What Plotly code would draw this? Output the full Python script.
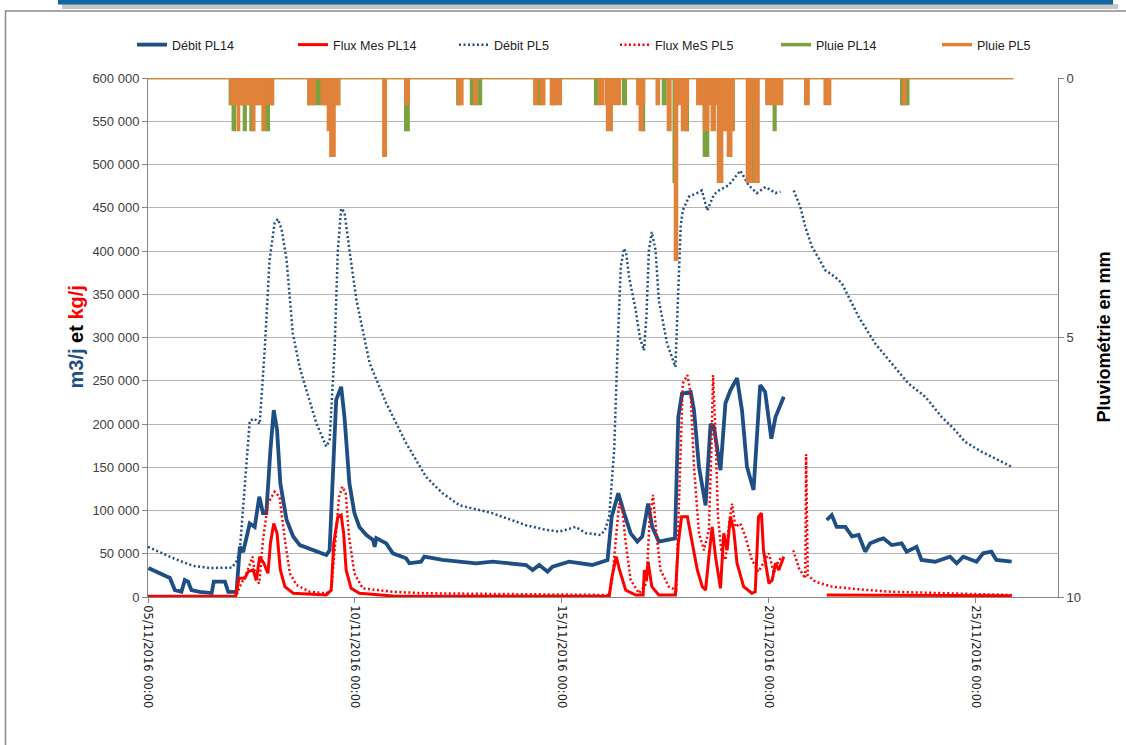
import pandas as pd
import plotly.graph_objects as go

START = pd.Timestamp("2016-11-05 00:00")

# ---- Débit PL14 (m3/j) : days since 05/11/2016 00:00 ----
t_debit_pl14 = [0.01, 0.29, 0.53, 0.65, 0.81, 0.89, 0.97, 1.05, 1.25, 1.54, 1.59, 1.86, 1.94, 2.14,
                2.22, 2.30, 2.46, 2.58, 2.69, 2.78, 2.86, 2.96, 3.04, 3.12, 3.20, 3.35, 3.51, 3.67,
                3.99, 4.31, 4.39, 4.47, 4.55, 4.67, 4.75, 4.87, 4.99, 5.11, 5.28, 5.44, 5.48, 5.52,
                5.76, 5.92, 6.24, 6.32, 6.60, 6.68, 7.12, 7.93, 8.33, 9.14, 9.30, 9.46, 9.66, 9.78,
                9.94, 10.18, 10.74, 11.11, 11.21, 11.37, 11.51, 11.67, 11.83, 11.95, 12.09, 12.19,
                12.35, 12.59, 12.74, 12.82, 12.91, 13.12, 13.20, 13.32, 13.48, 13.60, 13.68, 13.84,
                13.96, 14.08, 14.24, 14.36, 14.48, 14.64, 14.72, 14.80, 14.92, 15.07, 15.17, 15.37,
                15.70,
                16.41, 16.53, 16.65, 16.86, 17.02, 17.18, 17.34, 17.46, 17.66, 17.78, 17.98, 18.22,
                18.34, 18.58, 18.70, 19.03, 19.39, 19.55, 19.71, 20.03, 20.19, 20.39, 20.51, 20.88]
debit_pl14 = [33500, 27700, 22000, 8000, 6000, 19600, 17700, 8000, 6000, 4600, 17700, 17700, 6000, 6000,
              58000, 52000, 85000, 81000, 116000, 97000, 97000, 170000, 216000, 193000, 131000, 89000, 70000, 60000,
              54000, 48500, 54000, 150600, 228000, 243000, 208000, 131000, 97000, 81000, 71700, 66000, 58000, 68000,
              62000, 50500, 44700, 39000, 40800, 46600, 42800, 39000, 40800, 37000, 31200, 37000, 29300, 35000,
              37000, 40800, 37000, 42800, 92800, 120000, 97000, 73600, 64000, 70000, 108000, 81000,
              64000, 66000, 67800, 208000, 235000, 237000, 216000, 150600, 106000, 200000, 197000, 146700,
              224000, 239000, 253000, 216000, 150600, 123700, 189000, 245000, 237000, 183000, 208000, 231500,
              None,
              89000, 94800, 81000, 81000, 70000, 71700, 52400, 62000, 66000, 67800, 60000, 62000,
              52400, 58000, 42800, 40800, 46600, 39000, 46600, 40800, 50500, 52400, 42800, 40800]

# ---- Flux MES PL14 (kg/j) ----
t_flux_pl14 = [0.00, 2.12, 2.20, 2.34, 2.42, 2.54, 2.62, 2.70, 2.80, 2.90, 2.96, 3.04, 3.12, 3.20, 3.31,
               3.51, 4.31, 4.43, 4.49, 4.59, 4.67, 4.73, 4.79, 4.91, 5.11, 5.92, 11.05, 11.15, 11.21,
               11.32, 11.40, 11.55, 11.79, 11.97, 12.00, 12.05, 12.09, 12.18, 12.35, 12.75, 12.82,
               12.90, 13.04, 13.12, 13.28, 13.40, 13.48, 13.56, 13.64, 13.72, 13.84, 13.92, 14.00,
               14.08, 14.16, 14.24, 14.40, 14.60, 14.68, 14.76, 14.83, 14.88, 15.01, 15.09, 15.17,
               15.25, 15.37, 15.70, 16.41, 18.14, 20.88]
flux_pl14 = [1000, 1000, 21600, 21600, 29300, 31200, 19600, 46600, 39000, 27400, 62000, 85000, 73600, 31200, 12000,
             4300, 2300, 8000, 62000, 92800, 94800, 73600, 31200, 10000, 4300, 1200, 800, 500, 21600,
             46600, 31200, 8000, 2300, 2300, 31200, 19600, 40800, 12000, 2300, 2300, 62000,
             92800, 92800, 73600, 31200, 12000, 8000, 46600, 81000, 46600, 10000, 73600, 54000,
             92800, 77500, 39000, 12000, 4300, 6000, 92800, 97000, 54000, 15800, 19600, 39000,
             31200, 46600, None, 2300, 1800, 1500]

# ---- Débit PL5 (m3/j) ----
t_debit_pl5 = [0.00, 0.29, 0.65, 1.09, 1.50, 2.03, 2.15, 2.22, 2.34, 2.46, 2.58, 2.70, 2.82, 2.94, 3.06,
               3.14, 3.23, 3.35, 3.50, 3.67, 3.83, 4.07, 4.31, 4.39, 4.51, 4.59, 4.67, 4.75, 4.87, 5.04,
               5.36, 5.76, 6.24, 6.72, 7.12, 7.53, 8.32, 9.14, 9.58, 9.94, 10.34, 10.58, 10.95, 11.05,
               11.15, 11.27, 11.35, 11.43, 11.51, 11.56, 11.63, 11.79, 11.89, 11.99, 12.05, 12.11,
               12.18, 12.27, 12.35, 12.55, 12.75, 12.83, 12.88, 12.93, 13.08, 13.32, 13.39, 13.52,
               13.68, 13.80, 14.04, 14.32, 14.52, 14.72, 14.93, 15.17, 15.29, 15.45, 15.61, 15.77,
               15.89, 16.05, 16.21, 16.37, 16.61, 16.77, 17.18, 17.58, 17.98, 18.38, 18.79, 19.19,
               19.51, 19.75, 20.15, 20.55, 20.88]
debit_pl5 = [58000, 52000, 44000, 36000, 33500, 34000, 42000, 54000, 132000, 204000, 206000, 200000, 285000, 390000, 432000,
             437000, 425000, 390000, 305000, 265000, 239000, 201000, 174000, 181000, 285000, 401000, 449000, 445000, 401000, 343000,
             270000, 224000, 178000, 139000, 120000, 106000, 97000, 83000, 78000, 75500, 81000, 74000, 71700, 78000,
             93000, 170000, 285000, 382000, 403000, 398000, 370000, 332000, 300000, 285000, 324000, 401000,
             422000, 401000, 343000, 293000, 266000, 363000, 430000, 447000, 463000, 468000, 470000, 447000,
             465000, 470000, 476000, 493000, 476000, 467000, 474000, 467000, 468500, None, 470000, 451000,
             428000, 405000, 392000, 378000, 370000, 363000, 324000, 293000, 270000, 247000, 231500, 208000,
             193000, 179500, 168000, 158000, 150500]

# ---- Flux MeS PL5 (kg/j) ----
t_flux_pl5 = [0.00, 2.12, 2.22, 2.38, 2.53, 2.61, 2.69, 2.78, 2.90, 3.06, 3.18, 3.31, 3.43, 3.59, 3.91,
              4.31, 4.43, 4.54, 4.62, 4.70, 4.78, 4.86, 4.99, 5.19, 5.92, 6.72, 9.94, 11.15, 11.22,
              11.31, 11.39, 11.47, 11.55, 11.67, 11.87, 12.05, 12.13, 12.21, 12.29, 12.39, 12.59,
              12.77, 12.85, 12.93, 13.04, 13.12, 13.20, 13.32, 13.44, 13.56, 13.62, 13.66, 13.72,
              13.78, 13.86, 13.96, 14.04, 14.12, 14.20, 14.32, 14.44, 14.60, 14.76, 15.01, 15.13,
              15.25, 15.35, 15.50, 15.60, 15.74, 15.89, 15.91, 15.95, 16.13, 16.53, 17.18, 17.98,
              19.59, 20.88]
flux_pl5 = [500, 500, 12000, 27400, 46600, 19600, 15800, 66000, 108000, 121700, 116000, 66000, 27400, 13900, 6000,
            4300, 8000, 70000, 116000, 127500, 120000, 70000, 27400, 10000, 6000, 4300, 2300, 2300, 19600,
            66000, 108000, 100500, 62000, 19600, 4300, 15800, 92800, 118000, 73600, 31200, 12000,
            8000, 131000, 247000, 256600, 235000, 150600, 73600, 54000, 77500, 170000, 256600, 189000,
            92800, 54000, 42800, 81000, 108000, 81000, 85000, 70000, 42800, 29300, 50500, 27400,
            42800, 46600, None, 54000, 33100, 21600, 165000, 25400, 17700, 12000, 8900, 6000,
            4300, 2300]

# ---- Pluie (mm), step values starting at each time ----
t_rain_pl14 = [0.00, 1.98, 2.05, 2.10, 2.32, 2.36, 2.48, 2.53, 2.86, 2.92, 3.02, 3.88, 4.15, 4.20, 4.62,
               6.22, 6.30, 7.48, 7.55, 7.81, 7.90, 7.99, 8.05, 9.43, 9.50, 9.78, 9.84, 10.81, 10.86,
               11.49, 11.55, 11.95, 11.99, 12.45, 12.51, 12.71, 12.74, 13.00, 13.05, 13.44, 13.54,
               14.62, 14.68, 15.13, 15.17, 18.21, 18.26, 18.31, 18.38, 20.92]
rain_pl14 = [0, 0.5, 1.0, 0.5, 1.0, 0.5, 1.0, 0.5, 1.0, 0.5, 0, 0.5, 0, 0.5, 0,
             1.0, 0, 0.5, 0, 0.5, 0, 0.5, 0, 0.5, 0, 0.5, 0, 0.5, 0,
             0.5, 0, 1.0, 0, 0.5, 0, 2.0, 0, 1.0, 0, 1.5, 0,
             2.0, 0, 1.0, 0, 0.5, 0, 0.5, 0, 0]

t_rain_pl5 = [0.00, 2.00, 2.17, 2.20, 2.53, 2.57, 2.77, 2.81, 3.02, 3.88, 4.03, 4.20, 4.35, 4.41, 4.51, 4.62,
              5.69, 5.75, 6.22, 6.30, 7.50, 7.60, 7.89, 7.94, 9.34, 9.41, 9.50, 9.58, 9.74, 9.82, 9.84, 9.98,
              10.90, 11.00, 11.07, 11.10, 11.21, 11.41, 11.83, 11.89, 11.95, 11.99, 12.30, 12.35, 12.57, 12.63,
              12.74, 12.79, 12.91, 13.03, 13.05, 13.28, 13.40, 13.44, 13.54, 13.63, 13.70, 13.76, 13.78, 13.88,
              14.02, 14.10, 14.16, 14.48, 14.57, 14.65, 14.76, 14.95, 15.33, 15.89, 15.97, 16.36, 16.49,
              18.26, 18.31, 20.92]
rain_pl5 = [0, 0.5, 1.0, 0.5, 1.0, 0.5, 1.0, 0.5, 0, 0.5, 0, 0.5, 1.0, 1.5, 0.5, 0,
            1.5, 0, 0.5, 0, 0.5, 0, 0.5, 0, 0.5, 0, 0.5, 0, 0.5, 0, 0.5, 0,
            0.5, 0, 0.5, 1.0, 0.5, 0, 0.5, 1.0, 0.5, 0, 0.5, 0, 1.0, 0,
            3.5, 0.5, 1.0, 0.5, 0, 0.5, 0, 1.0, 0.5, 1.0, 0.5, 0, 2.0, 1.0,
            1.5, 1.0, 0, 2.0, 0.5, 2.0, 0, 0.5, 0, 0.5, 0, 0.5, 0,
            0.5, 0, 0]

x_tick_days = [0, 5, 10, 15, 20]
x_tick_labels = ["05/11/2016 00:00", "10/11/2016 00:00", "15/11/2016 00:00",
                 "20/11/2016 00:00", "25/11/2016 00:00"]

BLUE = "#1F4E85"
RED = "#FF0000"
GREEN = "#7AA23F"
ORANGE = "#E0823A"


def to_time(days):
    return [START + pd.Timedelta(days=d) for d in days]


fig = go.Figure()
fig.add_trace(go.Scatter(x=to_time(t_debit_pl14), y=debit_pl14, name="Débit PL14", mode="lines",
                         line=dict(color=BLUE, width=3.8), connectgaps=False))
fig.add_trace(go.Scatter(x=to_time(t_flux_pl14), y=flux_pl14, name="Flux Mes PL14", mode="lines",
                         line=dict(color=RED, width=3), connectgaps=False))
fig.add_trace(go.Scatter(x=to_time(t_debit_pl5), y=debit_pl5, name="Débit PL5", mode="lines",
                         line=dict(color=BLUE, width=2.5, dash="2px,2.5px"), connectgaps=False))
fig.add_trace(go.Scatter(x=to_time(t_flux_pl5), y=flux_pl5, name="Flux MeS PL5", mode="lines",
                         line=dict(color=RED, width=2.5, dash="2px,2.5px"), connectgaps=False))
# rain, on reversed secondary axis
fig.add_trace(go.Scatter(x=to_time(t_rain_pl14), y=rain_pl14, yaxis="y2", mode="lines",
                         line=dict(color=GREEN, width=2.5, shape="hv"), fill="tozeroy",
                         fillcolor=GREEN, showlegend=False, name="Pluie PL14"))
fig.add_trace(go.Scatter(x=to_time(t_rain_pl5), y=rain_pl5, yaxis="y2", mode="lines",
                         line=dict(color=ORANGE, width=2.5, shape="hv"), fill="tozeroy",
                         fillcolor=ORANGE, showlegend=False, name="Pluie PL5"))
# legend entries for rain (line symbol)
fig.add_trace(go.Scatter(x=[None], y=[None], yaxis="y2", mode="lines", name="Pluie PL14",
                         line=dict(color=GREEN, width=3.5)))
fig.add_trace(go.Scatter(x=[None], y=[None], yaxis="y2", mode="lines", name="Pluie PL5",
                         line=dict(color=ORANGE, width=3.5)))

AX = "#868686"
L, R, T, B = 148, 68, 78, 148
PW = 1126 - L - R
PH = 745 - T - B


def px(x):
    return (x - L) / PW


def py(y):
    return (745 - B - y) / PH


fig.update_layout(
    width=1126, height=745,
    margin=dict(l=L, r=R, t=T, b=B),
    paper_bgcolor="white", plot_bgcolor="white",
    separators=", ",
    showlegend=True,
    legend=dict(orientation="h", x=px(132), xanchor="left", y=py(45), yanchor="middle",
                entrywidth=116, entrywidthmode="pixels",
                font=dict(family="Liberation Sans Narrow, Arial Narrow, Liberation Sans, sans-serif",
                          size=12.5, color="#222")),
    xaxis=dict(type="date", range=[START, START + pd.Timedelta(days=22)],
               tickvals=to_time(x_tick_days), ticktext=x_tick_labels, tickangle=90,
               ticks="outside", ticklen=5, tickcolor=AX, showline=True, linecolor=AX,
               showgrid=False, zeroline=False,
               tickfont=dict(family="DejaVu Sans", size=11.5, color="#222")),
    yaxis=dict(range=[0, 600000], dtick=50000, tickformat=",d", showgrid=True,
               gridcolor="#B5B5B5", gridwidth=1, ticks="outside", ticklen=5, tickcolor=AX,
               showline=True, linecolor=AX, zeroline=False,
               tickfont=dict(family="Liberation Sans, Arial, sans-serif", size=13, color="#404040")),
    yaxis2=dict(overlaying="y", side="right", range=[10, 0], tickvals=[0, 5, 10],
                showgrid=False, ticks="outside", ticklen=5, tickcolor=AX, showline=True,
                linecolor=AX, zeroline=False,
                tickfont=dict(family="Liberation Sans, Arial, sans-serif", size=13, color="#404040")),
    annotations=[
        dict(text="<b><span style='color:#1F4E85'>m3/j</span> et <span style='color:#FF0000'>kg/j</span></b>",
             xref="paper", yref="paper", x=px(75), y=0.5, xanchor="center", yanchor="middle",
             textangle=-90, showarrow=False,
             font=dict(family="Liberation Sans, Arial, sans-serif", size=20, color="black")),
        dict(text="<b>Pluviométrie en mm</b>", xref="paper", yref="paper", x=px(1103), y=0.5,
             xanchor="center", yanchor="middle", textangle=-90, showarrow=False,
             font=dict(family="Liberation Sans, Arial, sans-serif", size=18, color="black")),
    ],
    shapes=[
        dict(type="rect", xref="paper", yref="paper", x0=px(5.5), x1=px(1140), y0=py(770), y1=py(11),
             line=dict(color="#8C8C8C", width=1.5), fillcolor="rgba(0,0,0,0)"),
        dict(type="rect", xref="paper", yref="paper", x0=px(62), x1=px(1118), y0=py(9), y1=py(4),
             line=dict(width=0), fillcolor="rgba(0,0,0,0.22)"),
        dict(type="rect", xref="paper", yref="paper", x0=px(58), x1=px(1113), y0=py(4.5), y1=py(-5),
             line=dict(width=0), fillcolor="#1068A0"),
    ],
)

fig.write_html("out.html", config={"displayModeBar": False},
               post_script="document.body.style.margin='0';document.body.style.overflow='hidden';")
